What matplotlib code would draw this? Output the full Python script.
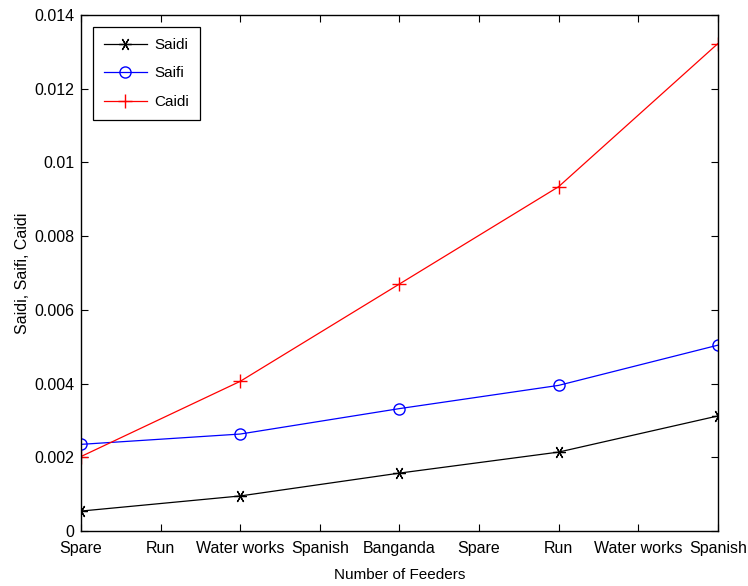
import matplotlib
matplotlib.use("Agg")
import matplotlib.pyplot as plt

plt.rcParams['font.family'] = ['Liberation Sans', 'DejaVu Sans']

tick_labels = ["Spare", "Run", "Water works", "Spanish", "Banganda",
               "Spare", "Run", "Water works", "Spanish"]
feeder_pos = [0, 2, 4, 6, 8]

saidi = [0.00054, 0.00095, 0.00157, 0.00214, 0.00312]
saifi = [0.00235, 0.00263, 0.00332, 0.00395, 0.00504]
caidi = [0.00202, 0.00406, 0.00670, 0.00934, 0.01322]

fig = plt.figure(figsize=(7.48, 5.86), dpi=100)
ax = fig.add_axes([0.1083, 0.0939, 0.8512, 0.8805])

# asterisk marker like matlab's '*'
ax.plot(feeder_pos, saidi, color="black", marker=(6, 2, 90), markersize=9, linewidth=0.9,
        markeredgewidth=0.9, label="Saidi")
ax.plot(feeder_pos, saifi, color="blue", marker="o", markersize=8, markerfacecolor="none",
        linewidth=0.9, label="Saifi")
ax.plot(feeder_pos, caidi, color="red", marker="+", markersize=10, linewidth=0.9, label="Caidi")

ax.set_xlim(0, 8)
ax.set_ylim(0, 0.014)
ax.set_xticks(range(len(tick_labels)))
ax.set_xticklabels(tick_labels)
ax.set_yticks([0, 0.002, 0.004, 0.006, 0.008, 0.01, 0.012, 0.014])
ax.set_yticklabels(["0", "0.002", "0.004", "0.006", "0.008", "0.01", "0.012", "0.014"])
ax.tick_params(direction="in", top=True, right=True, length=5, labelsize=11.5)
ax.tick_params(axis="x", pad=7)
ax.tick_params(axis="y", pad=5)
for s in ax.spines.values():
    s.set_linewidth(1.0)

ax.set_xlabel("Number of Feeders", fontsize=11, labelpad=9)
ax.set_ylabel("Saidi, Saifi, Caidi", fontsize=11.5, labelpad=3)

leg = ax.legend(loc="upper left", fontsize=11, fancybox=False, edgecolor="black",
                framealpha=1, borderaxespad=0.8, handlelength=2.8, borderpad=0.7,
                labelspacing=0.95, handletextpad=0.5)
leg.get_frame().set_linewidth(0.9)

fig.savefig("out.png", dpi=100)
